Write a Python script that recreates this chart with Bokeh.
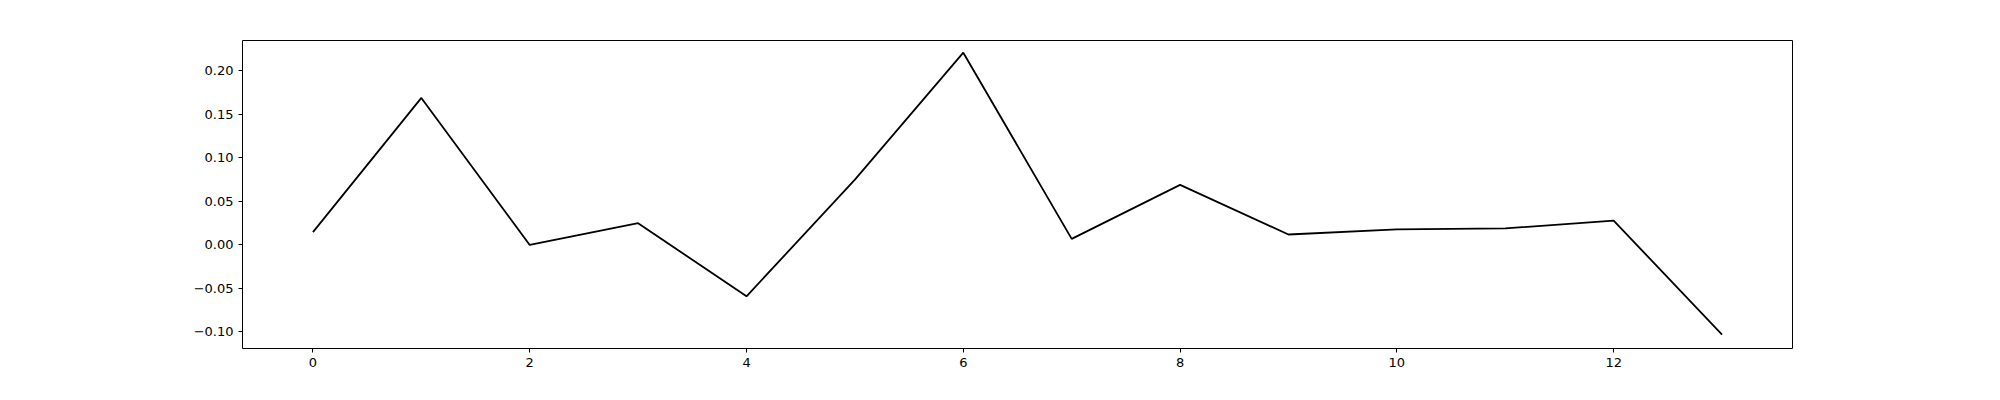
from bokeh.plotting import figure
from bokeh.models import Range1d, FixedTicker, CustomJSTickFormatter
from bokeh.embed import file_html
from bokeh.resources import INLINE

x = list(range(14))
y = [0.0147, 0.169, 0.0, 0.025, -0.059, 0.075, 0.221, 0.007, 0.069, 0.012, 0.018, 0.019, 0.028, -0.103]

p = figure(width=1984, height=392, output_backend="svg", toolbar_location=None,
           x_range=Range1d(-0.65, 13.65), y_range=Range1d(-0.119, 0.235),
           min_border_left=242, min_border_right=192, min_border_top=40, min_border_bottom=44)
p.line(x, y, line_color="black", line_width=1.8)

p.xgrid.visible = False
p.ygrid.visible = False
p.outline_line_color = "black"
p.outline_line_width = 1
p.xaxis.ticker = FixedTicker(ticks=[0, 2, 4, 6, 8, 10, 12])
p.yaxis.ticker = FixedTicker(ticks=[-0.10, -0.05, 0.0, 0.05, 0.10, 0.15, 0.20])
p.yaxis.formatter = CustomJSTickFormatter(code="return (tick < 0 ? '\u2212' : '') + Math.abs(tick).toFixed(2);")
for ax in (p.xaxis, p.yaxis):
    ax.axis_line_color = None
    ax.minor_tick_line_color = None
    ax.major_tick_out = 4
    ax.major_tick_in = 0
    ax.major_label_text_font = "DejaVu Sans"
    ax.major_label_text_font_size = "13px"
    ax.major_label_text_color = "black"

open("out.html", "w").write(file_html(p, INLINE))
